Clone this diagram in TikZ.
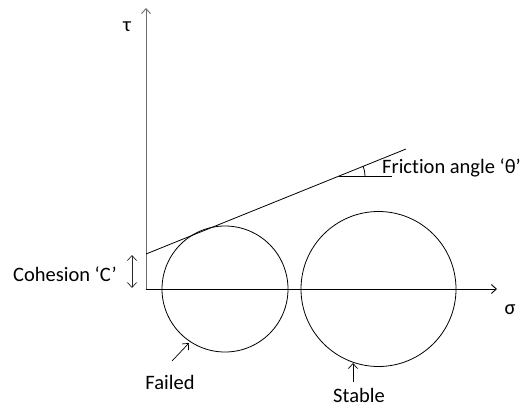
\documentclass[tikz,border=0pt]{standalone}
\usepackage{fontspec}
\setmainfont{Carlito}[Ligatures=NoCommon]
\usetikzlibrary{arrows.meta, angles, positioning}

\begin{document}
\begin{tikzpicture}[
    x=1pt, y=-1pt, % pixel-like units, y pointing down
    >={Straight Barb[length=5pt, width=9pt]}, % open arrow tips
    axis/.style={line width=0.9pt}, % style for the axes
    thin line/.style={line width=0.8pt}, % circles and envelope
    lbl/.style={font=\fontsize{20.5}{24}\selectfont, inner sep=0pt} % style for labels
]
    \useasboundingbox (0,0) rectangle (524,407);

    % Origin and axes
    \coordinate (O) at (146,289);
    \coordinate (tauend) at (146,8);
    \coordinate (sigend) at (497,289);
    \draw[axis, gray!85!black, ->] (O) -- (tauend);
    \draw[axis, ->] (O) -- (sigend);
    \node[lbl] (taulbl) at (127,27) {τ};
    \node[lbl] (siglbl) at (510,310) {σ};

    % Mohr circles
    \coordinate (cfail) at (225,289);
    \coordinate (cstab) at (378.5,289);
    \draw[thin line] (cfail) circle (63);
    \draw[thin line] (cstab) circle (77.5);

    % Failure envelope
    \coordinate (cint) at (146,254);
    \coordinate (envend) at (406,149);
    \draw[thin line] (cint) -- (envend);

    % Friction angle
    \coordinate (fpt) at (339,176);
    \coordinate (fref) at (392,176);
    \draw[thin line] (fpt) -- (fref);
    \pic [draw, thin line, angle radius=26pt] {angle = fref--fpt--envend};
    \node[lbl, anchor=west] (fric) at (382,168) {Friction angle ‘θ’};

    % Cohesion
    \coordinate (ctop) at (132,255);
    \coordinate (cbot) at (132,288);
    \draw[gray!30!black, line width=0.7pt, <->] (ctop) -- (cbot);
    \node[lbl, anchor=east] (coh) at (117,274) {Cohesion ‘C’};

    % Circle labels
    \node[lbl] (failed) at (170,382) {Failed};
    \coordinate (ftail) at (172,361);
    \coordinate (fhead) at (189,343);
    \draw[line width=0.7pt, ->] (ftail) -- (fhead);

    \node[lbl] (stable) at (359,395) {Stable};
    \coordinate (stail) at (353,382);
    \coordinate (shead) at (353,363);
    \draw[line width=0.7pt, ->] (stail) -- (shead);

\end{tikzpicture}
\end{document}
